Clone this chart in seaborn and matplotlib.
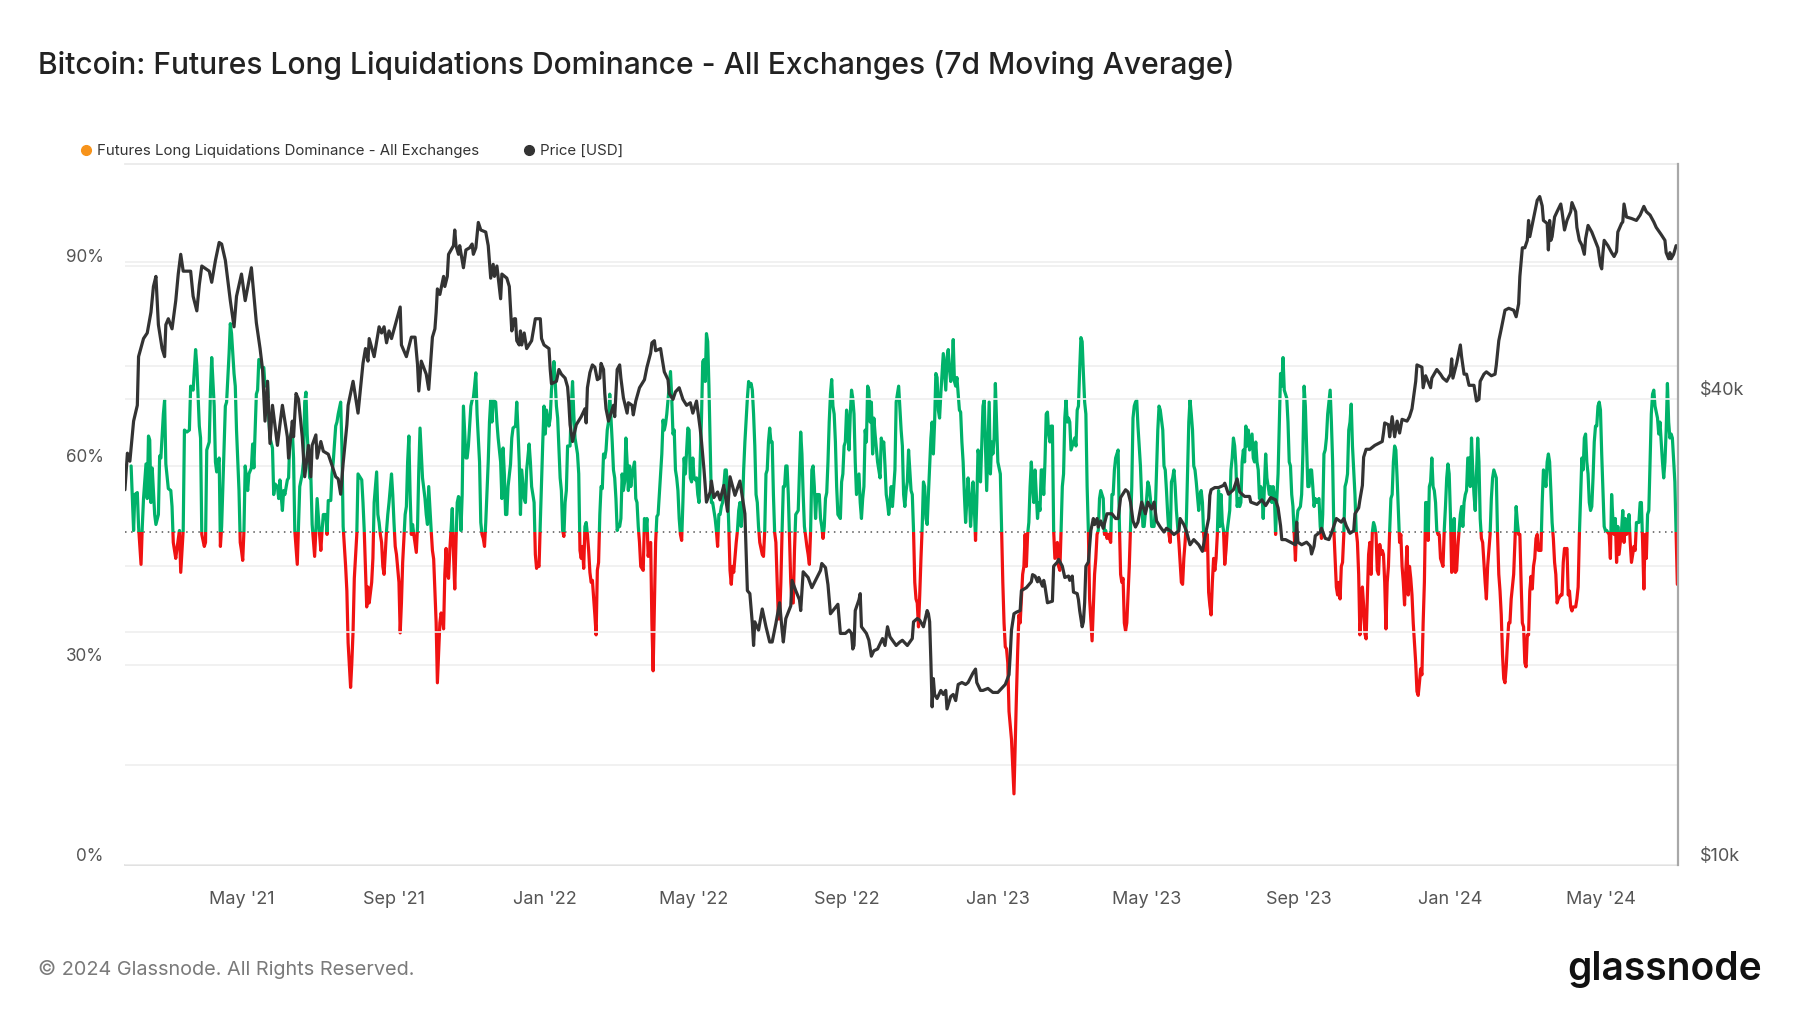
import numpy as np
import pandas as pd
import matplotlib
matplotlib.use("Agg")
import matplotlib.pyplot as plt
import matplotlib.dates as mdates
import matplotlib.ticker as mticker
import matplotlib.transforms as mtransforms
from matplotlib.patches import Rectangle
from matplotlib.lines import Line2D
import seaborn as sns

# Data
START = pd.Timestamp("2021-01-27")  # day 0

# BTC price, daily close, thousands of USD
price_day = [
    0, 2, 4, 7, 10, 11, 15, 18, 21, 23, 25, 27, 30, 32, 33, 35, 38, 41, 43, 45, 47, 53, 55, 58, 60,
    62, 68, 70, 73, 76, 78, 81, 85, 88, 90, 94, 97, 102, 106, 109, 111, 113, 115, 117, 119, 123,
    125, 127, 131, 132, 135, 136, 138, 140, 143, 145, 148, 150, 151, 154, 155, 158, 160, 164, 167,
    170, 172, 174, 176, 179, 180, 184, 188, 192, 194, 196, 197, 201, 205, 207, 209, 211, 213, 215,
    219, 222, 223, 227, 231, 234, 236, 237, 239, 243, 245, 248, 250, 251, 252, 254, 257, 258, 260,
    261, 265, 266, 267, 269, 270, 273, 275, 278, 280, 281, 283, 285, 287, 291, 293, 295, 297, 298,
    300, 303, 304, 308, 310, 312, 314, 315, 316, 318, 319, 320, 322, 324, 328, 331, 335, 336, 338,
    342, 343, 344, 348, 350, 352, 355, 357, 358, 359, 361, 364, 368, 371, 372, 373, 375, 377, 379,
    381, 383, 384, 386, 387, 388, 390, 392, 394, 395, 397, 399, 400, 402, 405, 406, 409, 410, 412,
    415, 419, 421, 424, 425, 427, 428, 432, 433, 435, 438, 439, 442, 444, 447, 450, 453, 456, 458,
    461, 464, 465, 467, 469, 472, 473, 475, 478, 480, 483, 486, 488, 492, 496, 498, 500, 502, 504,
    506, 507, 508, 511, 514, 517, 520, 522, 525, 528, 530, 531, 533, 537, 538, 541, 544, 545, 547,
    551, 554, 557, 561, 562, 565, 567, 569, 574, 575, 577, 581, 584, 586, 587, 588, 589, 592, 593,
    594, 598, 600, 602, 604, 607, 611, 613, 615, 617, 622, 625, 627, 631, 635, 636, 639, 641, 644,
    647, 648, 649, 650, 651, 652, 653, 655, 658, 660, 662, 663, 666, 668, 670, 672, 675, 678, 680,
    684, 686, 687, 690, 692, 696, 700, 704, 707, 710, 713, 714, 715, 717, 719, 722, 723, 727, 731,
    732, 734, 736, 737, 740, 741, 742, 744, 748, 749, 752, 753, 756, 758, 761, 762, 764, 765, 768,
    769, 770, 772, 773, 774, 775, 777, 779, 781, 782, 784, 785, 787, 789, 792, 796, 799, 801, 803,
    807, 809, 811, 813, 815, 817, 820, 823, 825, 828, 830, 832, 835, 838, 840, 843, 846, 850, 851,
    854, 856, 859, 862, 866, 869, 871, 874, 875, 876, 879, 882, 886, 887, 890, 894, 897, 899, 903,
    907, 908, 913, 917, 920, 924, 928, 930, 932, 933, 936, 940, 944, 945, 946, 949, 953, 956, 957,
    959, 960, 964, 965, 968, 971, 973, 976, 977, 981, 983, 985, 988, 991, 992, 995, 996, 998, 999,
    1001, 1004, 1008, 1011, 1014, 1015, 1016, 1019, 1020, 1022, 1024, 1026, 1028, 1030, 1034, 1036,
    1038, 1039, 1041, 1042, 1046, 1047, 1049, 1053, 1054, 1058, 1061, 1063, 1066, 1069, 1070, 1071,
    1074, 1077, 1078, 1080, 1082, 1084, 1088, 1090, 1092, 1093, 1096, 1098, 1102, 1105, 1106, 1108,
    1110, 1113, 1116, 1120, 1122, 1124, 1125, 1127, 1129, 1131, 1132, 1133, 1136, 1139, 1141, 1143,
    1144, 1147, 1148, 1149, 1150, 1151, 1153, 1155, 1158, 1159, 1161, 1163, 1166, 1167, 1170, 1171,
    1173, 1175, 1177, 1178, 1180, 1183, 1186, 1188, 1190, 1191, 1192, 1193, 1196, 1199, 1201, 1203,
    1204, 1207, 1208, 1209, 1211, 1215, 1219, 1222, 1225, 1227, 1230, 1233, 1235, 1239, 1242, 1243,
    1245, 1246, 1247, 1249, 1251,
]
price_k = [
    30.5, 34.0, 33.2, 37.4, 39.2, 45.3, 47.8, 48.6, 51.7, 55.8, 57.5, 49.8, 46.4, 45.3, 49.8, 50.7,
    49.2, 53.5, 57.9, 61.4, 58.4, 58.4, 54.2, 51.9, 56.1, 59.3, 58.4, 56.5, 60.3, 63.6, 63.3, 60.3,
    53.5, 49.5, 54.2, 57.9, 53.5, 59.0, 50.1, 46.4, 43.6, 37.4, 42.1, 35.0, 39.2, 34.8, 37.0, 39.2,
    35.7, 33.5, 37.4, 35.7, 40.6, 39.9, 35.7, 31.7, 34.8, 31.7, 34.8, 35.9, 33.5, 35.2, 34.2, 33.9,
    32.8, 31.7, 31.5, 30.1, 33.0, 37.0, 39.2, 42.1, 38.3, 44.4, 46.4, 44.7, 47.8, 45.3, 49.5, 48.6,
    49.5, 47.2, 48.9, 47.8, 50.4, 52.5, 46.9, 45.3, 48.0, 48.0, 44.2, 40.9, 44.7, 43.0, 41.1, 48.0,
    49.2, 51.7, 55.4, 54.5, 57.5, 55.8, 57.5, 61.4, 63.0, 66.0, 63.0, 61.4, 63.0, 59.0, 62.2, 62.6,
    63.3, 61.4, 62.6, 67.5, 66.0, 65.6, 63.0, 57.2, 59.6, 57.5, 59.3, 53.8, 57.9, 57.2, 55.8, 48.9,
    50.7, 50.7, 47.5, 46.9, 48.9, 46.9, 48.6, 46.4, 47.5, 50.7, 50.7, 47.8, 46.9, 46.4, 43.6, 41.8,
    42.1, 43.6, 43.0, 42.5, 41.4, 39.5, 37.0, 35.2, 37.0, 37.9, 38.8, 37.2, 41.3, 43.2, 44.2, 43.9,
    42.3, 42.5, 44.4, 43.6, 40.6, 38.8, 37.4, 38.3, 39.2, 37.9, 43.6, 44.2, 42.5, 40.1, 38.3, 39.5,
    39.2, 38.1, 39.7, 41.3, 42.3, 43.9, 45.8, 47.2, 47.5, 46.1, 46.4, 45.3, 43.3, 42.3, 40.6, 39.9,
    40.8, 41.3, 39.9, 39.2, 39.5, 38.3, 39.7, 36.5, 35.2, 32.4, 29.4, 30.3, 31.3, 29.8, 30.3, 29.6,
    30.9, 28.6, 31.7, 30.0, 31.3, 29.8, 28.4, 22.6, 22.4, 20.5, 19.2, 20.6, 20.1, 21.4, 20.3, 19.4,
    19.4, 20.5, 21.8, 20.1, 19.4, 20.8, 21.6, 23.3, 22.6, 22.0, 21.3, 23.9, 23.5, 22.8, 23.3, 24.0,
    24.5, 24.2, 23.0, 21.1, 21.6, 21.7, 19.9, 19.9, 20.1, 19.9, 19.0, 19.2, 21.3, 22.0, 22.4, 20.3,
    19.9, 19.5, 18.6, 18.9, 19.0, 19.6, 19.2, 20.3, 19.7, 19.2, 19.4, 19.5, 19.2, 19.6, 20.6, 20.8,
    20.7, 20.3, 21.3, 21.1, 20.6, 18.3, 16.0, 17.4, 16.6, 16.4, 16.8, 16.6, 16.8, 15.9, 16.5, 16.6,
    16.3, 17.1, 17.2, 17.1, 17.2, 17.7, 17.9, 17.2, 16.8, 16.8, 16.9, 16.7, 16.7, 16.9, 17.1, 17.6,
    18.7, 20.1, 21.1, 21.2, 21.3, 22.6, 22.8, 23.2, 23.7, 23.6, 23.2, 23.5, 22.9, 23.3, 22.9, 21.8,
    21.9, 24.3, 24.6, 24.8, 24.3, 23.5, 23.6, 23.3, 23.6, 22.5, 22.4, 22.0, 21.3, 20.3, 20.6, 21.8,
    24.3, 24.6, 27.0, 28.0, 27.5, 28.0, 27.3, 27.8, 27.2, 28.4, 28.4, 28.0, 28.0, 29.8, 30.5, 30.3,
    29.4, 27.8, 27.3, 27.7, 29.4, 28.4, 29.4, 28.8, 29.4, 27.8, 27.3, 26.9, 27.2, 27.0, 26.7, 27.0,
    28.0, 27.5, 27.0, 25.9, 26.3, 25.9, 25.4, 26.5, 28.0, 30.0, 30.5, 30.7, 30.7, 30.9, 31.1, 30.1,
    30.5, 31.5, 30.3, 29.9, 29.9, 29.4, 29.2, 29.6, 29.1, 29.8, 29.6, 28.9, 27.4, 26.3, 26.3, 26.1,
    25.9, 27.7, 26.1, 25.9, 26.1, 25.8, 25.2, 25.8, 26.6, 26.9, 27.2, 26.4, 26.3, 26.8, 27.7, 28.0,
    27.7, 28.0, 27.4, 26.8, 27.0, 28.4, 28.9, 29.6, 30.9, 33.6, 34.4, 34.4, 34.8, 35.0, 35.2, 36.1,
    37.2, 37.0, 35.7, 37.9, 35.7, 37.4, 36.1, 37.6, 37.4, 37.9, 38.8, 39.9, 42.1, 44.2, 43.9, 41.3,
    42.8, 41.3, 42.5, 43.6, 43.0, 42.5, 42.1, 43.0, 45.0, 42.5, 44.4, 46.9, 45.3, 43.0, 43.0, 41.6,
    41.6, 39.7, 39.9, 42.1, 43.0, 43.3, 42.8, 43.0, 44.2, 47.5, 49.2, 52.0, 52.3, 52.0, 51.0, 53.0,
    57.5, 62.6, 62.6, 64.0, 67.9, 64.7, 68.3, 72.1, 72.9, 70.9, 67.9, 67.3, 62.2, 67.9, 64.0, 64.7,
    68.6, 69.7, 71.3, 69.7, 66.0, 67.9, 69.7, 71.6, 69.7, 66.5, 64.0, 63.1, 61.4, 64.3, 66.9, 65.6,
    63.8, 62.6, 59.4, 58.8, 61.7, 64.0, 63.0, 61.7, 61.0, 61.9, 65.6, 67.3, 67.6, 71.3, 68.6, 68.3,
    67.9, 69.0, 70.8, 69.7, 69.0, 67.6, 66.5, 65.1, 64.0, 61.7, 60.6, 61.7, 60.6, 61.4, 63.0,
]

# Futures long liquidations dominance, 7d MA, percent
dom_day = [
    5, 7, 8, 10, 11, 13, 14, 15, 17, 18, 19, 20, 21, 22, 24, 25, 27, 28, 29, 31, 32, 33, 35, 37, 38,
    39, 41, 42, 44, 45, 47, 48, 50, 52, 53, 55, 57, 58, 60, 61, 62, 64, 65, 66, 68, 69, 70, 72, 73,
    74, 76, 77, 78, 80, 81, 82, 84, 85, 86, 88, 89, 90, 92, 93, 94, 95, 96, 97, 99, 100, 102, 103,
    104, 106, 107, 108, 111, 112, 113, 115, 116, 117, 119, 120, 121, 123, 124, 125, 127, 128, 129,
    131, 132, 133, 135, 136, 137, 139, 140, 141, 143, 144, 145, 146, 147, 149, 150, 151, 153, 154,
    155, 157, 158, 159, 160, 162, 163, 164, 166, 167, 168, 170, 171, 172, 174, 175, 176, 178, 179,
    180, 182, 183, 184, 185, 187, 188, 189, 191, 192, 193, 195, 196, 197, 199, 200, 201, 203, 204,
    205, 206, 207, 208, 209, 211, 212, 213, 215, 216, 217, 218, 219, 221, 222, 223, 224, 226, 227,
    228, 229, 230, 231, 232, 233, 235, 236, 237, 238, 239, 240, 242, 243, 244, 245, 247, 248, 249,
    250, 251, 252, 254, 255, 256, 257, 258, 259, 260, 261, 262, 263, 264, 265, 266, 267, 268, 269,
    270, 271, 272, 273, 275, 276, 277, 279, 280, 281, 282, 283, 284, 286, 287, 288, 289, 290, 291,
    293, 294, 295, 296, 297, 299, 300, 301, 303, 304, 305, 306, 307, 308, 309, 311, 312, 313, 315,
    316, 317, 318, 319, 320, 322, 323, 324, 326, 327, 328, 330, 331, 332, 333, 334, 335, 337, 338,
    339, 340, 342, 343, 344, 346, 347, 348, 349, 351, 352, 353, 354, 355, 356, 357, 359, 360, 361,
    362, 363, 365, 366, 367, 368, 369, 370, 371, 372, 373, 374, 375, 376, 377, 379, 380, 381, 382,
    383, 384, 385, 386, 387, 388, 389, 390, 391, 392, 393, 394, 395, 396, 397, 398, 399, 400, 401,
    402, 403, 404, 405, 406, 407, 408, 409, 411, 412, 413, 414, 415, 416, 418, 419, 420, 421, 422,
    423, 424, 425, 426, 427, 428, 429, 430, 431, 433, 434, 435, 436, 437, 439, 440, 441, 442, 443,
    444, 445, 446, 447, 448, 449, 450, 451, 452, 454, 455, 456, 457, 458, 459, 460, 461, 462, 463,
    464, 465, 466, 467, 468, 469, 470, 471, 472, 473, 474, 476, 477, 478, 479, 480, 481, 482, 483,
    484, 485, 486, 487, 488, 489, 490, 491, 493, 494, 495, 496, 497, 498, 499, 500, 502, 503, 504,
    505, 506, 507, 508, 509, 510, 511, 512, 514, 515, 516, 517, 518, 519, 520, 521, 522, 523, 524,
    525, 526, 527, 528, 529, 530, 531, 532, 533, 534, 535, 536, 537, 538, 539, 540, 541, 543, 544,
    545, 546, 547, 548, 549, 550, 551, 552, 553, 554, 555, 556, 557, 558, 560, 561, 562, 563, 564,
    565, 566, 567, 568, 569, 570, 571, 572, 573, 574, 575, 577, 578, 579, 580, 581, 582, 583, 584,
    585, 586, 587, 588, 589, 590, 592, 593, 594, 595, 596, 597, 598, 599, 600, 601, 602, 603, 604,
    605, 607, 608, 609, 610, 611, 612, 613, 614, 615, 616, 617, 618, 619, 621, 622, 623, 624, 626,
    627, 628, 629, 630, 631, 632, 633, 634, 635, 636, 637, 638, 639, 640, 641, 642, 643, 644, 645,
    646, 647, 648, 650, 651, 652, 653, 654, 655, 656, 657, 658, 659, 660, 662, 663, 664, 665, 666,
    667, 668, 669, 670, 671, 672, 673, 674, 675, 676, 677, 678, 680, 681, 682, 683, 684, 685, 686,
    687, 688, 689, 690, 691, 692, 693, 695, 696, 697, 698, 699, 700, 701, 702, 703, 704, 705, 706,
    707, 708, 709, 710, 711, 712, 713, 715, 716, 717, 718, 719, 720, 721, 722, 723, 724, 725, 726,
    727, 728, 729, 730, 731, 732, 733, 734, 735, 736, 737, 738, 739, 740, 741, 742, 743, 744, 745,
    746, 747, 748, 749, 750, 752, 753, 754, 755, 756, 757, 758, 759, 760, 761, 762, 763, 764, 766,
    767, 768, 769, 770, 771, 772, 773, 774, 775, 776, 777, 778, 780, 781, 782, 783, 784, 785, 786,
    787, 788, 789, 790, 791, 792, 793, 795, 796, 797, 798, 799, 800, 801, 802, 803, 804, 805, 806,
    807, 808, 810, 811, 812, 813, 814, 815, 816, 817, 818, 819, 820, 821, 822, 824, 825, 826, 827,
    828, 829, 830, 831, 832, 833, 834, 835, 837, 838, 839, 840, 841, 842, 843, 844, 845, 846, 847,
    848, 849, 850, 852, 853, 854, 855, 856, 857, 858, 859, 860, 861, 862, 863, 864, 866, 867, 868,
    869, 870, 871, 872, 873, 874, 875, 876, 877, 878, 879, 880, 881, 882, 883, 884, 885, 886, 887,
    888, 889, 891, 892, 893, 894, 895, 896, 897, 898, 899, 900, 901, 902, 903, 904, 905, 906, 907,
    909, 910, 911, 912, 913, 914, 915, 916, 917, 918, 919, 920, 921, 923, 924, 925, 926, 927, 928,
    929, 930, 931, 932, 933, 934, 935, 936, 937, 938, 939, 940, 941, 942, 943, 944, 945, 946, 948,
    949, 950, 951, 952, 953, 954, 955, 956, 957, 958, 959, 960, 961, 963, 964, 965, 966, 967, 968,
    969, 970, 971, 972, 973, 974, 975, 977, 978, 979, 980, 981, 982, 983, 984, 985, 986, 987, 988,
    989, 990, 992, 993, 994, 995, 996, 997, 998, 999, 1000, 1001, 1002, 1003, 1004, 1005, 1006,
    1007, 1008, 1009, 1010, 1011, 1012, 1013, 1014, 1015, 1016, 1017, 1018, 1019, 1020, 1021, 1022,
    1023, 1024, 1025, 1026, 1027, 1028, 1029, 1030, 1031, 1032, 1033, 1034, 1035, 1036, 1037, 1038,
    1039, 1041, 1042, 1043, 1044, 1045, 1046, 1047, 1048, 1049, 1050, 1051, 1052, 1053, 1054, 1055,
    1056, 1057, 1058, 1059, 1060, 1061, 1063, 1064, 1065, 1066, 1067, 1068, 1069, 1070, 1071, 1072,
    1073, 1074, 1075, 1077, 1078, 1079, 1080, 1081, 1082, 1083, 1084, 1085, 1086, 1087, 1088, 1089,
    1091, 1092, 1093, 1094, 1095, 1096, 1097, 1098, 1099, 1100, 1101, 1102, 1103, 1104, 1106, 1107,
    1108, 1109, 1110, 1111, 1112, 1113, 1114, 1115, 1116, 1117, 1118, 1120, 1121, 1122, 1123, 1124,
    1125, 1126, 1127, 1128, 1129, 1130, 1131, 1132, 1133, 1134, 1135, 1136, 1137, 1138, 1139, 1140,
    1142, 1143, 1144, 1145, 1146, 1147, 1148, 1149, 1150, 1151, 1152, 1153, 1154, 1155, 1156, 1158,
    1159, 1160, 1161, 1162, 1163, 1164, 1165, 1166, 1167, 1168, 1170, 1171, 1172, 1173, 1174, 1175,
    1176, 1177, 1178, 1179, 1180, 1181, 1182, 1183, 1184, 1185, 1186, 1187, 1188, 1189, 1190, 1191,
    1193, 1194, 1195, 1196, 1197, 1198, 1199, 1200, 1201, 1202, 1203, 1204, 1205, 1207, 1208, 1209,
    1210, 1211, 1212, 1213, 1214, 1215, 1216, 1217, 1218, 1219, 1221, 1222, 1223, 1224, 1225, 1226,
    1227, 1228, 1229, 1230, 1231, 1232, 1233, 1234, 1236, 1237, 1238, 1239, 1240, 1241, 1242, 1243,
    1244, 1245, 1246, 1247, 1248, 1250, 1251, 1252,
]
dom_pct = [
    60.0, 50.3, 55.7, 56.0, 50.9, 45.2, 50.9, 55.1, 60.3, 55.1, 64.5, 63.9, 54.5, 59.7, 52.7, 51.2,
    52.7, 61.5, 61.2, 67.8, 69.9, 60.3, 56.6, 56.3, 53.9, 48.5, 46.1, 47.6, 50.3, 44.0, 50.3, 65.4,
    65.1, 65.4, 72.0, 71.4, 77.5, 75.1, 66.0, 64.2, 49.7, 47.9, 48.5, 62.4, 63.6, 71.4, 76.3, 69.0,
    60.6, 59.1, 61.2, 47.9, 50.9, 63.0, 69.0, 69.6, 76.9, 81.4, 79.9, 73.9, 72.0, 65.4, 56.3, 48.5,
    47.3, 45.8, 50.3, 60.0, 56.3, 58.8, 59.7, 63.3, 59.7, 70.8, 71.4, 76.0, 74.5, 74.8, 72.0, 72.7,
    67.2, 64.2, 62.7, 55.7, 57.3, 56.9, 55.1, 57.9, 53.3, 56.3, 55.7, 57.9, 58.2, 64.2, 65.4, 61.2,
    50.3, 45.2, 50.9, 56.9, 58.8, 60.6, 69.6, 71.1, 64.8, 58.2, 58.2, 51.2, 46.4, 50.3, 55.1, 49.7,
    47.3, 50.3, 52.7, 52.7, 49.7, 54.8, 54.8, 58.8, 60.6, 66.0, 66.6, 67.8, 69.6, 63.0, 50.9, 44.9,
    41.2, 33.4, 26.7, 30.4, 35.2, 43.1, 49.7, 58.8, 58.5, 57.9, 54.5, 50.3, 38.8, 41.8, 39.4, 42.5,
    46.1, 54.5, 59.1, 52.7, 51.5, 49.7, 48.5, 44.9, 43.7, 50.3, 52.7, 54.5, 58.8, 55.7, 51.5, 47.9,
    46.7, 42.5, 34.9, 39.4, 45.5, 52.7, 53.9, 60.6, 64.5, 55.7, 49.7, 51.2, 49.7, 47.0, 50.9, 59.4,
    65.7, 61.8, 58.2, 55.1, 52.7, 51.2, 56.9, 50.3, 47.3, 46.0, 41.0, 36.4, 27.4, 36.4, 37.9, 37.0,
    35.5, 43.7, 47.6, 43.7, 43.1, 47.3, 50.3, 53.6, 46.7, 41.5, 48.5, 54.5, 55.4, 55.1, 50.3, 55.7,
    69.0, 61.2, 61.2, 63.0, 69.0, 69.9, 70.2, 72.0, 74.0, 67.8, 60.6, 51.5, 49.7, 49.1, 47.9, 51.5,
    60.6, 66.6, 69.9, 66.6, 69.9, 69.6, 66.6, 64.2, 60.6, 55.1, 62.7, 58.8, 52.7, 52.7, 56.9, 60.3,
    64.2, 65.7, 66.0, 69.6, 65.4, 60.6, 52.7, 59.4, 55.1, 54.5, 59.4, 63.3, 60.6, 56.9, 54.5, 46.7,
    44.6, 45.2, 44.9, 51.5, 63.6, 69.0, 64.8, 68.4, 66.0, 67.2, 71.4, 75.7, 72.7, 69.0, 67.2, 58.2,
    56.3, 50.3, 49.4, 54.5, 56.3, 63.0, 63.0, 69.0, 72.7, 67.8, 64.2, 61.8, 58.8, 47.3, 46.1, 47.9,
    44.6, 50.9, 51.5, 49.7, 47.3, 44.0, 42.5, 42.8, 37.6, 34.6, 44.3, 45.5, 52.7, 56.9, 56.6, 61.8,
    61.2, 62.4, 65.4, 66.6, 70.8, 67.2, 63.6, 59.4, 58.2, 55.1, 50.3, 50.9, 50.9, 52.1, 58.8, 56.3,
    57.6, 64.2, 60.6, 56.3, 60.0, 56.9, 58.8, 60.6, 55.1, 54.5, 50.9, 48.5, 44.9, 44.3, 52.1, 50.3,
    52.1, 46.4, 47.9, 48.5, 36.4, 29.2, 38.8, 48.5, 52.4, 52.7, 55.7, 61.8, 66.9, 65.4, 66.3, 67.8,
    72.0, 74.2, 70.2, 64.8, 65.4, 59.4, 58.2, 56.3, 52.1, 49.7, 48.8, 54.5, 61.2, 58.8, 65.7, 65.4,
    58.2, 57.6, 61.2, 58.2, 57.9, 58.2, 55.7, 54.5, 61.2, 67.2, 75.7, 76.0, 72.7, 79.9, 78.7, 72.0,
    63.6, 54.5, 54.5, 52.1, 50.3, 47.9, 52.7, 52.7, 53.9, 54.5, 56.9, 59.4, 59.4, 56.3, 50.9, 44.3,
    42.2, 44.9, 44.0, 48.5, 50.3, 53.3, 54.5, 50.9, 53.3, 59.4, 63.6, 70.2, 72.7, 72.0, 72.4, 71.4,
    67.8, 63.0, 55.7, 54.5, 50.9, 48.5, 46.7, 46.4, 50.3, 58.8, 59.4, 63.6, 65.7, 63.6, 63.6, 55.7,
    50.0, 48.5, 42.5, 37.0, 37.0, 42.5, 50.3, 56.9, 56.9, 60.0, 60.0, 55.7, 49.1, 42.5, 39.4, 39.4,
    47.3, 52.7, 53.3, 59.4, 65.1, 61.8, 55.7, 50.9, 49.4, 47.9, 46.7, 45.2, 50.3, 59.4, 60.0, 56.9,
    52.1, 55.7, 55.7, 52.1, 50.9, 49.1, 50.9, 55.1, 56.0, 60.6, 66.6, 70.8, 73.0, 69.0, 67.8, 63.6,
    56.9, 52.7, 52.1, 57.6, 58.8, 63.0, 63.6, 68.4, 66.6, 62.4, 67.8, 71.4, 70.2, 67.8, 60.6, 55.7,
    58.8, 54.5, 52.1, 55.1, 56.9, 65.4, 63.6, 72.0, 71.4, 66.6, 69.6, 61.8, 67.2, 64.8, 60.6, 59.4,
    58.2, 64.2, 63.0, 63.6, 60.0, 55.7, 54.5, 52.7, 54.5, 56.9, 53.9, 59.4, 69.6, 70.8, 72.0, 65.4,
    63.0, 55.7, 53.9, 56.3, 57.6, 62.4, 59.4, 56.3, 55.7, 50.3, 42.5, 40.0, 39.4, 35.8, 40.6, 46.1,
    50.9, 57.6, 56.9, 52.1, 51.2, 55.7, 64.2, 66.6, 61.8, 66.6, 73.9, 73.3, 68.4, 67.2, 70.8, 73.9,
    76.9, 71.4, 76.3, 77.5, 74.5, 72.7, 73.9, 79.0, 72.7, 72.0, 73.3, 70.8, 68.4, 68.1, 63.6, 60.6,
    55.7, 51.5, 58.2, 55.7, 50.9, 53.9, 57.6, 53.9, 48.8, 54.5, 62.4, 61.2, 57.6, 63.0, 69.0, 69.9,
    56.3, 63.0, 69.6, 58.8, 63.6, 61.8, 64.2, 72.4, 66.6, 60.6, 59.7, 58.8, 50.3, 42.5, 36.4, 32.8,
    32.5, 30.4, 23.1, 18.9, 14.7, 10.7, 18.3, 25.5, 32.2, 37.6, 36.4, 40.0, 43.7, 44.9, 49.7, 44.9,
    49.7, 51.5, 56.9, 60.6, 56.9, 54.5, 59.4, 55.7, 52.1, 54.5, 53.3, 59.4, 59.4, 55.7, 60.6, 67.8,
    68.1, 64.8, 63.6, 66.0, 66.0, 50.3, 46.1, 48.5, 44.9, 44.3, 50.3, 56.9, 58.8, 67.2, 69.9, 66.6,
    67.2, 66.6, 62.4, 63.0, 64.2, 63.0, 68.4, 69.0, 74.5, 79.3, 78.7, 73.9, 69.6, 67.8, 56.9, 50.3,
    40.0, 33.7, 38.8, 43.7, 46.1, 49.7, 50.3, 55.1, 56.3, 55.7, 55.1, 49.7, 50.3, 49.1, 49.7, 48.5,
    55.7, 55.7, 59.4, 61.2, 61.8, 62.4, 51.5, 43.7, 42.5, 43.1, 36.4, 35.2, 36.4, 44.9, 50.9, 56.9,
    67.2, 69.0, 69.6, 69.9, 66.0, 63.0, 60.0, 55.1, 50.9, 50.9, 55.1, 57.6, 56.9, 55.1, 50.9, 50.9,
    50.9, 53.3, 59.4, 65.4, 69.0, 68.4, 65.4, 60.0, 59.4, 56.3, 52.7, 49.7, 48.5, 57.6, 58.2, 59.4,
    56.9, 53.3, 50.9, 48.5, 42.5, 42.2, 46.1, 48.5, 51.5, 59.4, 66.6, 69.9, 67.8, 65.4, 60.0, 59.4,
    57.6, 53.3, 55.7, 56.3, 54.5, 49.7, 47.3, 48.5, 49.7, 41.0, 39.0, 37.6, 42.5, 46.1, 44.3, 46.1,
    49.7, 56.3, 50.9, 55.7, 51.5, 50.3, 45.2, 47.3, 50.3, 53.3, 59.4, 61.2, 64.2, 63.0, 60.0, 53.9,
    55.1, 53.9, 54.5, 60.6, 62.4, 60.6, 66.0, 63.0, 65.4, 62.4, 64.8, 61.2, 60.6, 63.6, 60.6, 59.4,
    55.1, 56.9, 56.3, 52.1, 56.9, 61.8, 58.2, 55.7, 56.9, 54.5, 56.9, 55.7, 49.7, 55.1, 58.8, 66.6,
    73.9, 72.0, 76.3, 71.4, 70.8, 70.2, 66.6, 60.6, 60.0, 55.7, 53.9, 49.7, 45.8, 51.5, 53.3, 53.9,
    55.7, 61.8, 72.0, 69.0, 63.0, 56.9, 56.9, 59.4, 59.4, 56.9, 53.9, 55.1, 54.5, 55.1, 50.9, 49.1,
    52.7, 61.8, 62.4, 64.2, 67.8, 69.6, 71.4, 66.6, 60.6, 50.3, 41.8, 40.6, 42.5, 40.0, 44.9, 45.5,
    49.7, 56.9, 57.6, 58.8, 65.4, 66.6, 69.3, 63.0, 55.7, 50.3, 48.5, 43.7, 34.6, 38.0, 41.8, 39.0,
    34.8, 34.0, 40.6, 46.7, 48.5, 43.7, 50.0, 51.5, 50.9, 49.7, 44.3, 43.7, 48.2, 46.7, 47.3, 46.7,
    42.5, 35.5, 42.5, 44.9, 50.3, 55.1, 55.7, 60.6, 63.0, 62.4, 58.2, 53.3, 48.5, 49.7, 44.9, 42.5,
    39.1, 44.3, 47.9, 40.6, 44.9, 43.1, 40.6, 36.4, 30.4, 26.1, 25.5, 27.4, 29.5, 28.6, 36.4, 42.5,
    54.5, 54.5, 48.8, 56.9, 57.6, 61.2, 56.9, 56.3, 54.5, 50.3, 49.7, 49.7, 46.1, 44.9, 50.3, 53.9,
    58.2, 60.3, 58.8, 52.7, 44.0, 44.3, 52.1, 44.0, 44.3, 47.9, 52.7, 53.9, 50.9, 54.5, 55.7, 56.3,
    61.2, 61.2, 56.9, 64.2, 59.4, 55.7, 53.3, 64.2, 60.6, 52.1, 49.1, 48.5, 45.5, 42.5, 40.0, 44.9,
    47.3, 49.7, 55.1, 58.2, 59.4, 58.2, 49.7, 43.7, 41.2, 37.6, 31.6, 28.0, 27.4, 29.8, 33.4, 36.4,
    36.4, 40.0, 43.7, 48.5, 53.9, 51.5, 49.7, 49.7, 42.5, 36.4, 35.8, 30.4, 29.8, 34.6, 34.6, 41.2,
    43.4, 41.5, 44.9, 46.1, 49.1, 49.7, 47.3, 47.3, 54.5, 59.4, 58.8, 56.9, 60.6, 61.8, 60.6, 56.3,
    51.5, 49.1, 45.5, 43.7, 39.4, 40.0, 40.6, 40.6, 45.5, 47.6, 47.3, 47.6, 40.6, 41.2, 38.8, 38.2,
    38.8, 38.8, 40.0, 41.8, 49.7, 55.7, 61.2, 59.4, 64.2, 64.8, 60.6, 58.8, 54.5, 53.3, 53.9, 58.2,
    63.6, 66.0, 66.0, 69.0, 69.6, 68.4, 61.8, 50.9, 50.3, 50.3, 50.0, 49.7, 46.1, 55.7, 52.1, 49.7,
    52.1, 45.5, 50.9, 46.7, 50.3, 53.3, 48.5, 52.1, 49.7, 50.3, 52.7, 48.5, 45.5, 46.7, 47.9, 47.3,
    51.5, 51.5, 54.5, 54.5, 48.5, 41.5, 49.7, 46.1, 52.7, 53.3, 60.6, 67.8, 70.8, 71.4, 69.0, 67.2,
    64.8, 66.6, 63.6, 60.6, 58.2, 60.6, 65.4, 72.4, 66.6, 64.2, 64.8, 64.2, 57.6, 49.7, 42.2,
]

TITLE = "Bitcoin: Futures Long Liquidations Dominance - All Exchanges (7d Moving Average)"
DOM_LABEL = "Futures Long Liquidations Dominance - All Exchanges"
PRICE_LABEL = "Price [USD]"
LEFT_TICKS = [0, 30, 60, 90]
LEFT_MINOR = [15, 45, 75]
RIGHT_TICKS = [10000, 40000]
RIGHT_MINOR = [20000, 60000]

GREEN = "#00b26a"
RED = "#f01212"
PRICE_COLOR = "#333333"
ORANGE = "#f7931a"

sns.set_style("white")
plt.rcParams["font.family"] = ["Inter", "DejaVu Sans"]

price_dates = START + pd.to_timedelta(price_day, unit="D")
dom_dates = START + pd.to_timedelta(dom_day, unit="D")
price_usd = np.array(price_k) * 1000

fig = plt.figure(figsize=(18, 10.13), dpi=100)
ax = fig.add_axes([0.0694, 0.1461, 0.8628, 0.6920])
axp = ax.twinx()

# dominance: green above 50 %, red below
line_kw = dict(lw=2.3, estimator=None, sort=False, legend=False,
               solid_joinstyle="round", solid_capstyle="round")
sns.lineplot(x=dom_dates, y=dom_pct, color=GREEN, ax=ax, **line_kw)
green_line = ax.lines[-1]
sns.lineplot(x=dom_dates, y=dom_pct, color=RED, ax=ax, **line_kw)
red_line = ax.lines[-1]
band = mtransforms.blended_transform_factory(ax.transAxes, ax.transData)
green_line.set_clip_path(Rectangle((0, 50), 1, 200, transform=band))
red_line.set_clip_path(Rectangle((0, -150), 1, 200, transform=band))
ax.axhline(50, color="#555555", lw=1.1, ls=(0, (1, 3)), zorder=1.5)

# price on log axis
sns.lineplot(x=price_dates, y=price_usd, color=PRICE_COLOR, ax=axp, **line_kw)

# left axis
ax.set_ylim(0, 105.4)
ax.set_xlim(START, START + pd.Timedelta(days=1252.5))
ax.yaxis.set_major_locator(mticker.FixedLocator(LEFT_TICKS))
ax.yaxis.set_minor_locator(mticker.FixedLocator(LEFT_MINOR))
ax.yaxis.set_major_formatter(mticker.FuncFormatter(lambda v, p: f"{v:.0f}%"))
ax.yaxis.set_minor_formatter(mticker.NullFormatter())
ax.grid(axis="y", which="both", color="#efefef", lw=1.2)
ax.set_axisbelow(True)
ax.tick_params(axis="y", which="both", length=0, pad=15.5, labelsize=12.3, labelcolor="#555555")

# right axis
axp.set_yscale("log")
axp.set_ylim(10000, 80300)
axp.yaxis.set_major_locator(mticker.FixedLocator(RIGHT_TICKS))
axp.yaxis.set_minor_locator(mticker.FixedLocator(RIGHT_MINOR))
axp.yaxis.set_major_formatter(mticker.FuncFormatter(lambda v, p: f"${v / 1000:.0f}k"))
axp.yaxis.set_minor_formatter(mticker.NullFormatter())
axp.grid(axis="y", which="both", color="#efefef", lw=1.2)
axp.tick_params(axis="y", which="both", length=0, pad=16, labelsize=13, labelcolor="#555555")

for lab in ax.get_yticklabels():
    lab.set_verticalalignment("bottom")
for lab in axp.get_yticklabels():
    lab.set_verticalalignment("bottom")

# x axis
ax.xaxis.set_major_locator(mdates.MonthLocator(bymonth=(1, 5, 9)))
ax.xaxis.set_major_formatter(mdates.DateFormatter("%b '%y"))
ax.tick_params(axis="x", length=10, width=1.2, color="#e4e4e4", pad=8.5,
               labelsize=13, labelcolor="#555555")
ax.set_xlabel("")
ax.set_ylabel("")
axp.set_xlabel("")
axp.set_ylabel("")

ax.spines["left"].set_visible(False)
ax.spines["top"].set_color("#ebebeb")
ax.spines["bottom"].set_color("#dedede")
ax.spines["right"].set_visible(False)
for side in ["left", "top", "bottom"]:
    axp.spines[side].set_visible(False)
axp.spines["right"].set_color("#a8a8a8")
axp.spines["right"].set_linewidth(1.6)
for side in ["top", "bottom"]:
    ax.spines[side].set_linewidth(1.3)

# title, legend, footer
fig.text(38 / 1800, 1 - 65 / 1013, TITLE, fontsize=21.6, color="#222222", va="center",
         weight="medium")
handles = [
    Line2D([], [], marker="o", ls="", color=ORANGE, markersize=7),
    Line2D([], [], marker="o", ls="", color=PRICE_COLOR, markersize=7),
]
fig.legend(handles, [DOM_LABEL, PRICE_LABEL], loc="center left",
           bbox_to_anchor=(81 / 1800, 1 - 151 / 1013), ncol=2, frameon=False,
           fontsize=10.8, labelcolor="#333333", handlelength=0.6, handletextpad=0.45,
           columnspacing=3.05, borderpad=0, borderaxespad=0)
fig.text(38 / 1800, 1 - 969 / 1013, "\u00a9 2024 Glassnode. All Rights Reserved.",
         fontsize=14.3, color="#7a7a7a", va="center")
fig.text(1762 / 1800, 1 - 970 / 1013, "glassnode", fontsize=28, color="#111111",
         ha="right", va="center", weight="semibold")

fig.savefig("out.png", dpi=100)
